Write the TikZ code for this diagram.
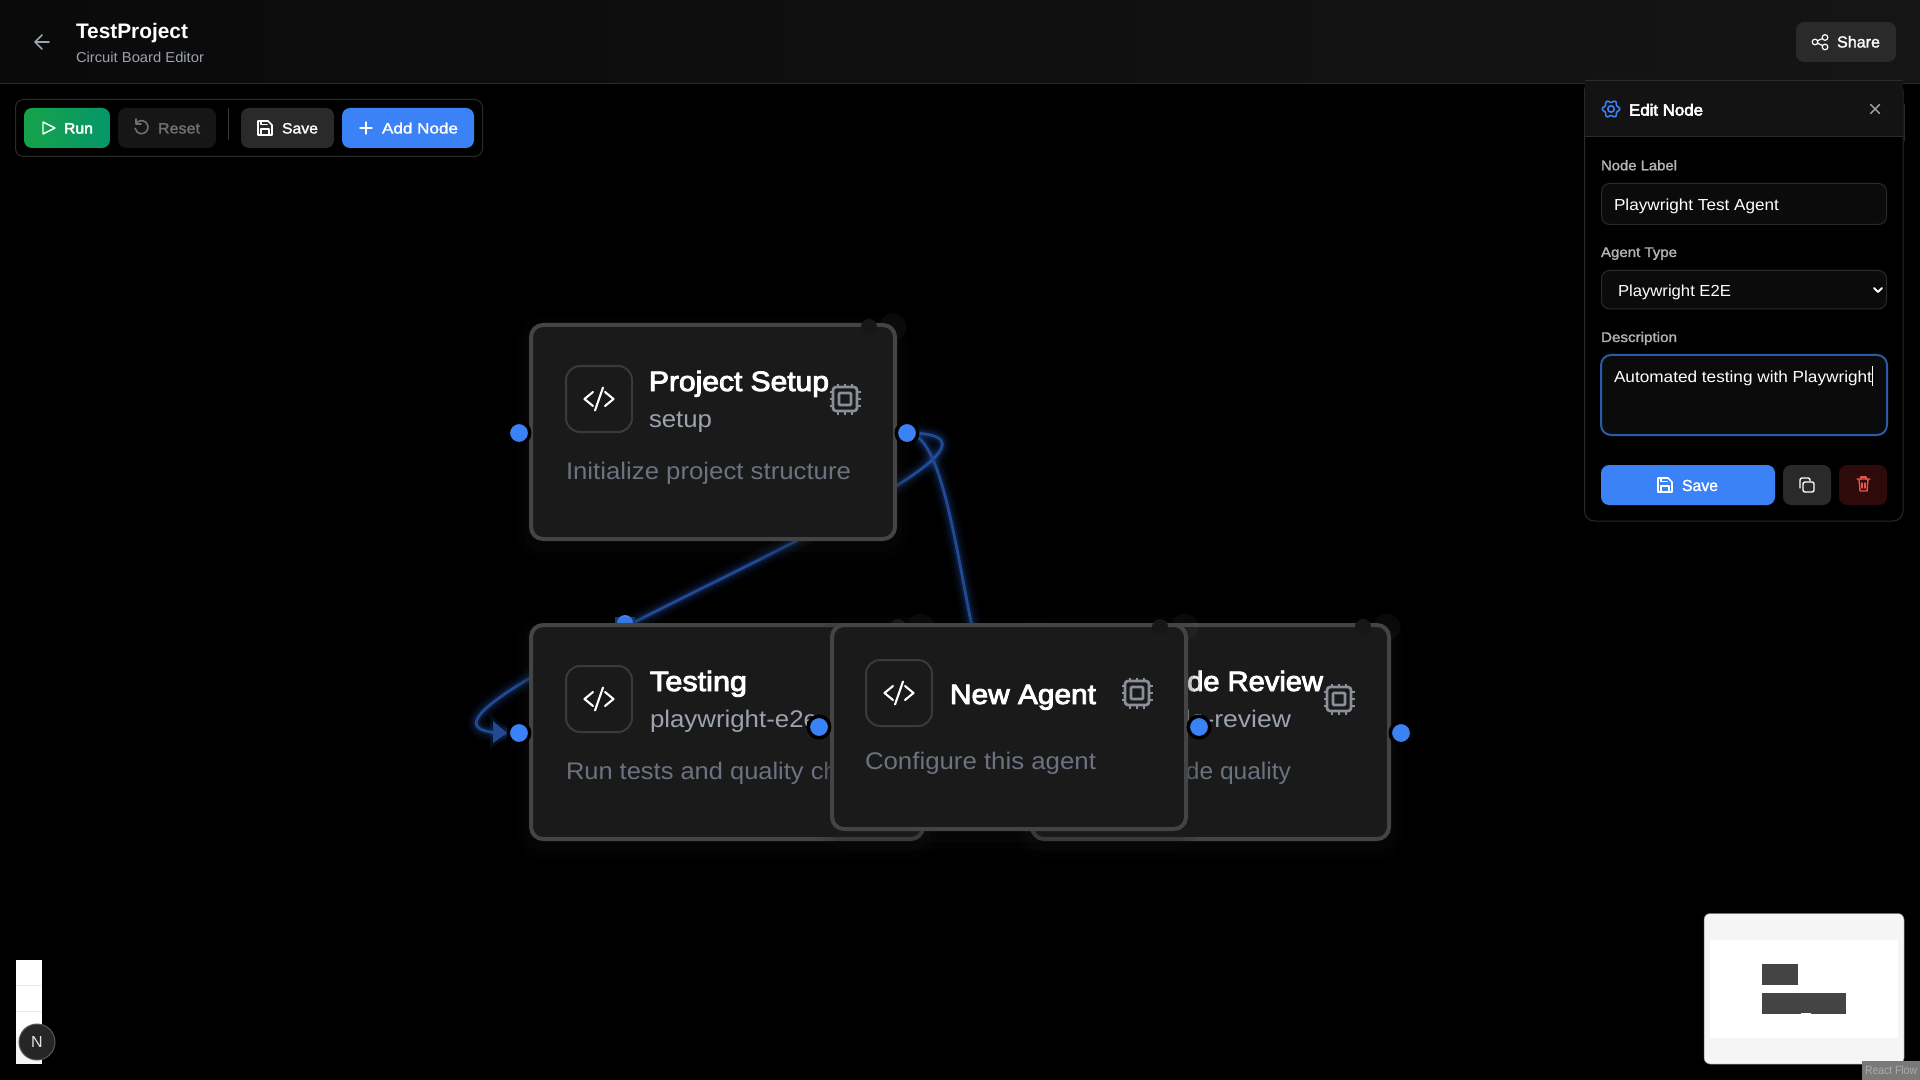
\documentclass[tikz,border=0pt]{standalone}
\usepackage{graphicx}
\usepackage{fontspec}
\setmainfont{Liberation Sans}
\newfontfamily\semif[FakeBold=3.2]{Liberation Sans}
\newfontfamily\medf[FakeBold=1.6]{Liberation Sans}
\usetikzlibrary{arrows.meta}
\newdimen\pxu \pxu=0.5pt
% colours
\definecolor{hdrL}{HTML}{0A0A0A}\definecolor{hdrR}{HTML}{151515}
\definecolor{linec}{HTML}{2A2A2A}\definecolor{cardfill}{HTML}{1A1A1A}
\definecolor{cardline}{HTML}{444444}\definecolor{iconline}{HTML}{3A3A3A}
\definecolor{sub}{HTML}{9CA3AF}\definecolor{desc}{HTML}{6B7280}
\definecolor{chipc}{HTML}{8A8F99}\definecolor{hblue}{HTML}{3B82F6}
\definecolor{edgec}{HTML}{214A93}\definecolor{glowc}{HTML}{2F6FE0}
\definecolor{btn}{HTML}{2A2A2A}\definecolor{resetbg}{HTML}{161616}
\definecolor{resettx}{HTML}{707070}\definecolor{labelc}{HTML}{B4B4B8}
\definecolor{field}{HTML}{0B0B0B}\definecolor{focusc}{HTML}{2A5BA8}
\definecolor{delbg}{HTML}{2E0A0A}\definecolor{delc}{HTML}{EF5350}
\definecolor{mini}{HTML}{F5F5F5}\definecolor{mininode}{HTML}{444444}
\definecolor{blobc}{HTML}{171717}\definecolor{sepc}{HTML}{3A3A3A}
\definecolor{runL}{HTML}{16A34A}\definecolor{runR}{HTML}{059669}
\tikzset{
  uib/.style={inner sep=0pt,rounded corners=4pt},
  card/.style={uib,rounded corners=6pt,draw=cardline,line width=2pt,fill=cardfill,
    preaction={draw=cardfill,line width=14pt,opacity=.10,transform canvas={yshift=-3pt}},
    preaction={draw=cardfill,line width=7pt,opacity=.16,transform canvas={yshift=-3pt}}},
  iconbox/.style={uib,rounded corners=7pt,draw=iconline,line width=1pt,fill=cardfill},
  handle/.style={circle,inner sep=0pt,fill=hblue,draw=black,line width=1.75pt,minimum size=10.75pt},
  tx/.style={anchor=base west,inner sep=0pt,outer sep=0pt},
  title/.style={tx,text=white,font=\fontsize{14}{14}\semif\selectfont},
  subt/.style={tx,text=sub,font=\fontsize{12}{12}\selectfont},
  dsc/.style={tx,text=desc,font=\fontsize{12}{12}\selectfont},
  btnt/.style={tx,text=white,font=\fontsize{7.5}{8}\semif\selectfont},
  lab/.style={tx,text=labelc,font=\fontsize{7}{8}\medf\selectfont},
  val/.style={tx,text=white,font=\fontsize{8}{9}\selectfont},
  edgeline/.style={draw=edgec,line width=1.4pt,
    preaction={draw=glowc,opacity=.05,line width=9pt},
    preaction={draw=glowc,opacity=.08,line width=6pt},
    preaction={draw=glowc,opacity=.14,line width=3.5pt}},
  iconl/.style={line width=1pt,line cap=round,line join=round},
  blobs/.style={circle,inner sep=0pt,minimum size=8pt,fill=blobc,draw=none},
  blobb/.style={circle,inner sep=0pt,minimum size=13.5pt,fill=white,fill opacity=.035,draw=none},
}
% box from corners, in px
\newcommand{\uibox}[6][]{\node[uib,minimum width={(#5-#3)*0.5pt},minimum height={(#6-#4)*0.5pt},#1] (#2) at ({(#3+#5)/2},{(#4+#6)/2}) {};}
% text: style, name, x, baseline, width in px, text
\newcommand{\ttx}[6]{\node[#1] (#2) at (#3,#4) {\resizebox{#5\pxu}{\height}{#6}};}
% code icon and chip icon
\newcommand{\codeicon}[2]{\begin{scope}[shift={(#1,#2)},white,line width=1.05pt,line cap=round,line join=round]
  \draw (-6,-7) -- (-14.5,0) -- (-6,7); \draw (6,-7) -- (14.5,0) -- (6,7); \draw (4,-11.5) -- (-4,11.5);
\end{scope}}
\newcommand{\chipicon}[2]{\begin{scope}[shift={(#1,#2)},chipc,line width=1.35pt]
  \draw[rounded corners=1.5pt] (-12,-12) rectangle (12,12);
  \draw[rounded corners=.5pt] (-6,-6) rectangle (6,6);
  \foreach \q in {-7,0,7}{ \draw[line width=1pt] (\q,-15.5) -- (\q,-12); \draw[line width=1pt] (\q,12) -- (\q,15.5); \draw[line width=1pt] (-15.5,\q) -- (-12,\q); \draw[line width=1pt] (12,\q) -- (15.5,\q);}
\end{scope}}
\newcommand{\saveicon}[3]{\begin{scope}[shift={(#1,#2)},#3,iconl,line width=.8pt]
  \draw (-7,-7) -- (3,-7) -- (7,-3) -- (7,7) -- (-7,7) -- cycle;
  \draw (-4,7) -- (-4,1) -- (4,1) -- (4,7); \draw (-4,-7) -- (-4,-3.5) -- (2,-3.5);
\end{scope}}
\begin{document}
\begin{tikzpicture}[x=0.5pt,y=-0.5pt]
\useasboundingbox (0,0) rectangle (1920,1080);
\fill[black] (0,0) rectangle (1920,1080);

% ---- graph ----
\coordinate (arrowtip) at (507,733);
\coordinate (crin) at (1020,733);
\coordinate (psout0) at (907,433);
\draw[edgeline] (psout0) .. controls +(210,0) and +(-195,0) .. (arrowtip);
\fill[edgec,preaction={draw=glowc,opacity=.12,line width=3pt}] (493,721) -- (507,733) -- (493,743) -- cycle;
\draw[edgeline] (psout0) .. controls +(56,0) and +(-56,0) .. (crin);
\fill[edgec!80!black] (615,617) rectangle (635,626);
\node[handle,draw=none,minimum size=8pt] (tsttop) at (625,623) {};

% Project Setup
\node[blobb] at (893,327) {};
\uibox[card]{ps}{531}{325}{895}{539}
\uibox[iconbox]{psi}{566}{366}{632}{432}
\codeicon{599}{399}
\chipicon{845}{399}
\ttx{title}{pst}{649}{391}{180}{Project Setup}
\ttx{subt}{pss}{649}{427}{63}{setup}
\ttx{dsc}{psd}{566}{479}{285}{Initialize project structure}
\node[blobs] at (869,327) {};

% Testing
\node[blobb] at (921,627) {};
\uibox[card]{te}{531}{625}{923}{839}
\uibox[iconbox]{tei}{566}{666}{632}{732}
\codeicon{599}{699}
\ttx{title}{tet}{650}{691}{97}{Testing}
\ttx{subt}{tes}{650}{727}{168}{playwright-e2e}
\ttx{dsc}{ted}{566}{779}{324}{Run tests and quality checks}
\node[blobs] at (898,627) {};

% Code Review
\node[blobb] at (1387,627) {};
\uibox[card]{cr}{1032}{625}{1389}{839}
\ttx{title}{crt}{1150}{691}{173}{Code Review}
\ttx{subt}{crs}{1148}{727}{143}{code-review}
\ttx{dsc}{crd}{1066}{779}{225}{Analyze code quality}
\chipicon{1339}{699}
\node[blobs] at (1363,627) {};

% New Agent
\node[blobb] at (1185,627) {};
\uibox[card]{na}{832}{625}{1186}{829}
\uibox[iconbox]{nai}{866}{660}{932}{726}
\codeicon{899}{693}
\chipicon{1137}{693}
\ttx{title}{nat}{950}{704}{146}{New Agent}
\ttx{dsc}{nad}{865}{769}{231}{Configure this agent}
\node[blobs] at (1160,627) {};

% handles
\node[handle] (psin) at (519,433) {};
\node[handle] (psout) at (907,433) {};
\node[handle] (tein) at (519,733) {};
\node[handle] (naout) at (1199,727) {};
\node[handle] (nain) at (819,727) {};
\node[handle] (crout2) at (1401,733) {};

% ---- header ----
\fill[left color=hdrL,right color=hdrR] (0,0) rectangle (1920,83);
\draw[linec,line width=.5pt] (0,83.5) -- (1920,83.5);
\draw[sub,iconl,line width=.8pt] (49,42) -- (35,42) (42,35) -- (35,42) -- (42,49);
\ttx{tx,text=white,font=\fontsize{10.5}{11}\bfseries\selectfont}{tp}{76}{39}{112}{TestProject}
\ttx{tx,text=sub,font=\fontsize{7.2}{8}\selectfont}{cbe}{76}{62.5}{128}{Circuit Board Editor}
\uibox[fill=btn]{share}{1796}{22}{1896}{62}
\begin{scope}[white,line width=.6pt]
  \draw (1825,37.5) circle (1.4pt) (1815,42) circle (1.4pt) (1825,47) circle (1.4pt);
  \draw (1818,40.5) -- (1822.5,38.5) (1818,43.5) -- (1822.5,45.5);
\end{scope}
\ttx{tx,text=white,font=\fontsize{8}{9}\medf\selectfont}{sht}{1837}{47.5}{43}{Share}

% ---- toolbar ----
\uibox[draw=linec,line width=.5pt,fill=black]{tb}{15.5}{99.5}{482.5}{156.5}
\uibox[left color=runL,right color=runR]{run}{24}{108}{110}{148}
\draw[white,iconl,line width=.7pt] (43,122) -- (43,134) -- (55,128) -- cycle;
\ttx{btnt}{runt}{64}{133.5}{29}{Run}
\uibox[fill=resetbg]{reset}{118}{108}{216}{148}
\draw[resettx,iconl,line width=.8pt] (136.5,123) arc[start angle=-140,end angle=170,radius=6.5];
\draw[resettx,iconl,line width=.8pt] (136,119) -- (136,124) -- (141,124);
\ttx{btnt,font=\fontsize{7.5}{8}\medf\selectfont,text=resettx}{rest}{158}{133.5}{42}{Reset}
\draw[sepc,line width=.5pt] (228.5,108) -- (228.5,140);
\uibox[fill=btn]{save}{241}{108}{334}{148}
\saveicon{265}{128}{white}
\ttx{btnt,font=\fontsize{7.5}{8}\medf\selectfont}{savet}{282}{133.5}{36}{Save}
\uibox[fill=hblue]{add}{342}{108}{474}{148}
\draw[white,iconl,line width=.7pt] (360,128) -- (372,128) (366,122) -- (366,134);
\ttx{btnt,font=\fontsize{7.5}{8}\medf\selectfont}{addt}{382}{133.5}{76}{Add Node}

% ---- edit panel ----
\uibox[draw=linec,line width=.5pt,fill=black,rounded corners=5pt]{panel}{1584.5}{80.5}{1903}{521}
\fill[hdrR!90!black] (1585,81) rectangle (1903,137);
\draw[linec,line width=.5pt] (1584.5,80.5) -- (1903,80.5) (1584.5,137) -- (1903,137);
\draw[linec,line width=.5pt] (1904,104) -- (1904,141);
\draw[hblue,line width=.8pt,line join=round] plot[domain=0:360,samples=73,smooth] ({1611+(7.6+1.1*cos(6*\x))*cos(\x)},{109+(7.6+1.1*cos(6*\x))*sin(\x)});
\draw[hblue,line width=.8pt] (1611,109) circle (1.6pt);
\ttx{btnt,font=\fontsize{8}{9}\semif\selectfont}{ent}{1629}{115.5}{74}{Edit Node}
\draw[sub,iconl,line width=.7pt] (1870.5,104.5) -- (1879.5,113.5) (1879.5,104.5) -- (1870.5,113.5);

\ttx{lab}{nl}{1601}{170.3}{76}{Node Label}
\uibox[draw=linec,line width=.5pt,fill=field]{nlf}{1601.5}{183.5}{1886.5}{224.5}
\ttx{val}{nlv}{1614}{210.5}{165}{Playwright Test Agent}

\ttx{lab}{at}{1601}{257}{76}{Agent Type}
\uibox[draw=linec,line width=.5pt,fill=field]{atf}{1601.5}{270.5}{1886.5}{309}
\ttx{val}{atv}{1618}{296.5}{113}{Playwright E2E}
\draw[white,iconl] (1874,288) -- (1878,292) -- (1882,288);

\ttx{lab}{de}{1601}{342}{76}{Description}
\uibox[draw=focusc,line width=1pt,fill=field,rounded corners=5pt]{def}{1601}{355}{1887}{435}
\ttx{val}{dev}{1614}{382}{258}{Automated testing with Playwright}
\draw[white,line width=.5pt] (1872.5,366) -- (1872.5,386);

\uibox[fill=hblue]{psave}{1601}{465}{1775}{505}
\saveicon{1665}{485}{white}
\ttx{tx,text=white,font=\fontsize{8}{9}\medf\selectfont}{psavet}{1682}{491}{36}{Save}
\uibox[fill=btn]{pcopy}{1783}{465}{1831}{505}
\begin{scope}[white,iconl,line width=.7pt]
  \draw[rounded corners=1pt] (1803,482) rectangle (1814,492);
  \draw[rounded corners=1pt] (1800,488) -- (1800,478) -- (1810,478) -- (1810,481);
\end{scope}
\uibox[fill=delbg]{pdel}{1839}{465}{1887}{505}
\begin{scope}[delc,iconl,line width=.7pt]
  \draw (1857,479) -- (1870,479) (1859,479) -- (1860,491) -- (1867,491) -- (1868,479);
  \draw (1861,479) -- (1861,477) -- (1866,477) -- (1866,479);
  \draw (1862,483) -- (1862,488) (1865,483) -- (1865,488);
\end{scope}

% ---- minimap ----
\uibox[fill=mini,draw=gray,line width=.25pt,rounded corners=3pt]{mm}{1704}{913.5}{1904}{1064}
\fill[white] (1710,940) rectangle (1898,1038);
\fill[mininode] (1762,964) rectangle (1798,985);
\fill[mininode] (1762,993) rectangle (1846,1014);
\fill[white] (1801,1013) rectangle (1811,1014);
\uibox[fill=gray!95!black,rounded corners=0pt]{rfb}{1862}{1061}{1920}{1080}
\ttx{tx,text=white!68!black,font=\fontsize{6}{7}\selectfont}{rft}{1865}{1074}{52}{React Flow}

% ---- left controls + badge ----
\fill[white] (16,960) rectangle (42,1037);
\fill[mini] (16,1037) rectangle (42,1064);
\draw[mini!95!black,line width=.5pt] (16,985) -- (42,985) (16,1011) -- (42,1011);
\uibox[circle,fill=black!85,draw=white!35!black,line width=.5pt,minimum width=18pt,minimum height=18pt]{nx}{28}{1033}{46}{1051}
\node[inner sep=0pt,text=white!90!black,font=\fontsize{8}{8}\selectfont] (nxt) at (37,1042) {N};
\end{tikzpicture}
\end{document}
